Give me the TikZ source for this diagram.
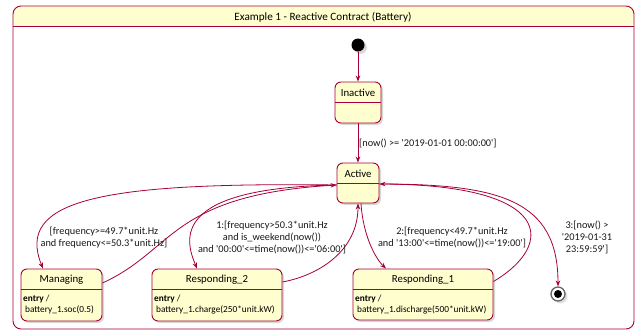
\documentclass[tikz,border=0pt]{standalone}
\usepackage{fontspec}
\setmainfont{Carlito}[Ligatures=TeXOff]
\usetikzlibrary{arrows.meta,shadows}

\definecolor{plumred}{HTML}{A80036}
\definecolor{stateyellow}{HTML}{FEFECE}

\begin{document}
\begin{tikzpicture}[x=1pt, y=-1pt, >={Stealth[length=6pt,width=4.5pt]},
    state/.style={draw=plumred, fill=stateyellow, line width=0.9pt, rounded corners=6pt,
      drop shadow={shadow xshift=2pt, shadow yshift=-2pt, opacity=0.3}},
    statename/.style={font=\fontsize{10.8}{13}\selectfont, inner sep=0pt},
    entrytext/.style={font=\fontsize{9.3}{11}\selectfont, align=left, anchor=north west, inner sep=0pt},
    divider/.style={draw=plumred, line width=0.9pt},
    trans/.style={draw=plumred, line width=0.8pt, ->},
    guard/.style={font=\fontsize{10.3}{12}\selectfont, align=center, inner sep=0pt, text=black!90}]

    \useasboundingbox (0,0) rectangle (638,332);

    % Outer frame with its header
    \node[draw=plumred, line width=0.9pt, rounded corners=8pt, fill=white, inner sep=0pt,
      minimum width=621pt, minimum height=323pt,
      path picture={\fill[stateyellow] (path picture bounding box.north west)
        rectangle ([yshift=-21pt]path picture bounding box.north east);}] (frame) at (323.5,167.5) {};
    \draw[divider] ([yshift=-21pt]frame.north west) -- ([yshift=-21pt]frame.north east);
    \node[font=\fontsize{11.2}{13}\selectfont] (title) at (323,17) {Example 1 - Reactive Contract (Battery)};

    % Initial and final states
    \node[circle, fill=black, minimum size=13pt, inner sep=0pt, drop shadow={opacity=0.3}] (start) at (358,45) {};
    \node[circle, draw=black!60, line width=1.3pt, fill=white, minimum size=14pt, inner sep=0pt,
      drop shadow={opacity=0.25}] (stop) at (558,294) {};
    \node[circle, fill=black, minimum size=8pt, inner sep=0pt] (stopdot) at (stop) {};

    % Inactive and Active
    \node[state, minimum width=46pt, minimum height=41pt] (inactive) at (358,102.5) {};
    \draw[divider] ([yshift=-21pt]inactive.north west) -- ([yshift=-21pt]inactive.north east);
    \node[statename] (inactivename) at (358,93) {Inactive};

    \node[state, minimum width=42pt, minimum height=40pt] (active) at (358,183) {};
    \draw[divider] ([yshift=-21pt]active.north west) -- ([yshift=-21pt]active.north east);
    \node[statename] (activename) at (358,174) {Active};

    % States with an entry action
    \node[state, minimum width=81pt, minimum height=52pt] (managing) at (61.5,295) {};
    \draw[divider] ([yshift=-21pt]managing.north west) -- ([yshift=-21pt]managing.north east);
    \node[statename] (managingname) at (61.5,280) {Managing};
    \node[entrytext] (managingentry) at (23,295) {\textbf{entry} /\\\hspace*{2pt}battery\_1.soc(0.5)};

    \node[state, minimum width=130pt, minimum height=52pt] (responding2) at (217,295) {};
    \draw[divider] ([yshift=-21pt]responding2.north west) -- ([yshift=-21pt]responding2.north east);
    \node[statename] (responding2name) at (217,280) {Responding\_2};
    \node[entrytext] (responding2entry) at (154,295) {\textbf{entry} /\\\hspace*{2pt}battery\_1.charge(250*unit.kW)};

    \node[state, minimum width=140pt, minimum height=51pt] (responding1) at (423,294.5) {};
    \draw[divider] ([yshift=-21pt]responding1.north west) -- ([yshift=-21pt]responding1.north east);
    \node[statename] (responding1name) at (423,280) {Responding\_1};
    \node[entrytext] (responding1entry) at (355,295) {\textbf{entry} /\\\hspace*{2pt}battery\_1.discharge(500*unit.kW)};

    % Transitions
    \draw[trans] (start) -- (inactive);
    \draw[trans] (inactive) -- (active);
    \draw[trans] ([yshift=-2pt]active.west) .. controls (100,182) and (15,200) .. ([xshift=-18.5pt]managing.north);
    \draw[trans] ([yshift=12pt]managing.east) .. controls (175,250) and (170,195) .. ([yshift=-2pt]active.west);
    \draw[trans] ([yshift=-2pt]active.west) .. controls (170,188) and (185,240) .. ([xshift=-20pt]responding2.north);
    \draw[trans] ([yshift=13pt]responding2.east) .. controls (320,275) and (358,250) .. (active.south);
    \draw[trans] ([xshift=3pt]active.south) .. controls (363,235) and (375,258) .. ([xshift=-37pt]responding1.north);
    \draw[trans] ([yshift=13pt]responding1.east) .. controls (555,245) and (555,185) .. ([yshift=-1pt]active.east);
    \draw[trans] ([yshift=-1pt]active.east) .. controls (500,184) and (558,200) .. (stop);

    % Guards
    \node[guard, anchor=west] (guard0) at (359,143) {[now() >= '2019-01-01 00:00:00']};
    \node[guard] (guard1) at (104,237.5) {[frequency>=49.7*unit.Hz\\and frequency<=50.3*unit.Hz]};
    \node[guard] (guard2) at (272,237) {1:[frequency>50.3*unit.Hz\\and is\_weekend(now())\\and '00:00'<=time(now())<='06:00']};
    \node[guard] (guard3) at (452,237.5) {2:[frequency<49.7*unit.Hz\\and '13:00'<=time(now())<='19:00']};
    \node[guard] (guard4) at (587,237) {3:[now() >\\'2019-01-31\\23:59:59']};

\end{tikzpicture}
\end{document}
